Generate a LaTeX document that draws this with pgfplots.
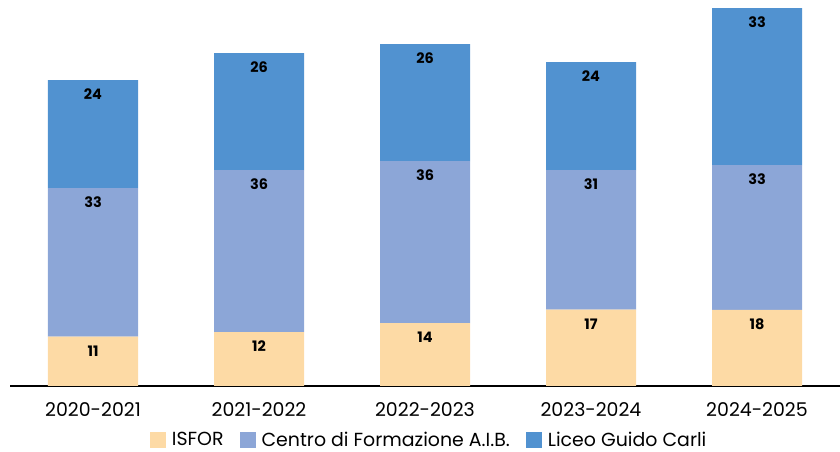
\documentclass[border=0pt]{standalone}
\usepackage{pgfplots}
\pgfplotsset{compat=1.18}
\usepackage{pgfplotstable}
\usepackage{fontspec}
\setmainfont{Poppins}
\definecolor{cIsfor}{HTML}{FDDAA5}
\definecolor{cCentro}{HTML}{8CA6D7}
\definecolor{cLiceo}{HTML}{5192D0}
% bar heights as drawn
\pgfplotstableread{
x a b c
0 11 33 24
1 12 36 26
2 14 36 26
3 17 31 24
4 16.9 32.2 34.9
}\datatable
% data labels: top of each segment and the printed value
\pgfplotstableread{
x top lab
0 11 11
0 44 33
0 68 24
1 12 12
1 48 36
1 74 26
2 14 14
2 50 36
2 76 26
3 17 17
3 48 31
3 72 24
4 16.9 18
4 49.1 33
4 84 33
}\labtable
\begin{document}
\begin{tikzpicture}
\useasboundingbox (0,0) rectangle (840bp,452bp);
\begin{axis}[
  at={(10bp,66bp)}, anchor=south west,
  scale only axis, width=830bp, height=386bp,
  ybar stacked, bar width=90bp,
  xmin=-0.5, xmax=4.5, ymin=0, ymax=85.8,
  axis x line=bottom, axis y line=none,
  x axis line style={line width=1.6bp, -},
  xtick=data, xticklabels={2020-2021,2021-2022,2022-2023,2023-2024,2024-2025},
  major tick length=0,
  xticklabel style={font=\fontsize{19}{22}\selectfont, yshift=-13bp},
  legend columns=3,
  legend style={draw=none, fill=none, inner sep=0pt, at={(0.505,-0.14)}, anchor=center, font=\fontsize{19}{21}\selectfont,
    /tikz/every even column/.append style={column sep=14bp}},
  legend image code/.code={\fill[#1] (0bp,-7.5bp) rectangle (16bp,8.5bp); \path (20bp,0bp);},
]
\addplot[fill=cIsfor, draw=none] table[x=x, y=a] {\datatable};
\addplot[fill=cCentro, draw=none] table[x=x, y=b] {\datatable};
\addplot[fill=cLiceo, draw=none] table[x=x, y=c] {\datatable};
\legend{ISFOR, Centro di Formazione A.I.B., Liceo Guido Carli}
\end{axis}
\begin{axis}[
  at={(10bp,66bp)}, anchor=south west,
  scale only axis, width=830bp, height=386bp,
  xmin=-0.5, xmax=4.5, ymin=0, ymax=85.8,
  hide axis,
]
\addplot[draw=none, mark=none, nodes near coords={\textbf{\pgfplotspointmeta}}, point meta=explicit symbolic,
  every node near coord/.append style={font=\fontsize{14.5}{17}\selectfont, anchor=center, yshift=-14.5bp, text=black}]
  table[x=x, y=top, meta=lab] {\labtable};
\end{axis}
\end{tikzpicture}
\end{document}
